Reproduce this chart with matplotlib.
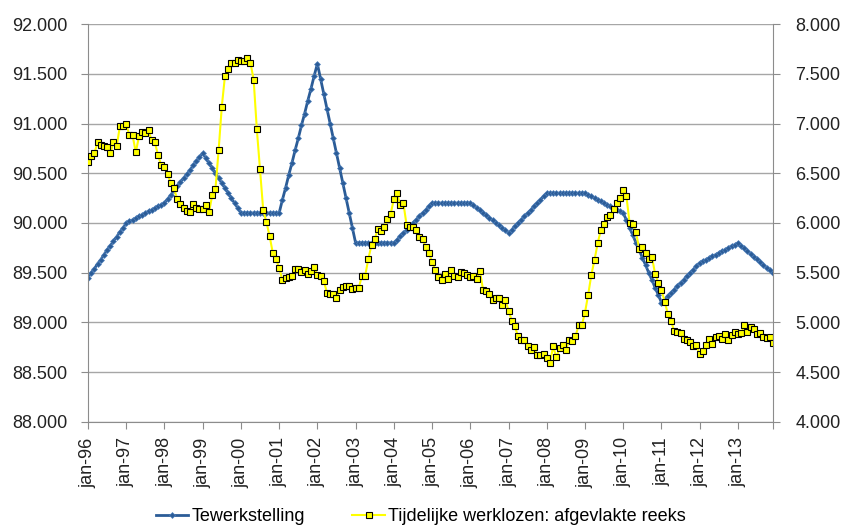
import numpy as np
import matplotlib.pyplot as plt

plt.rcParams['font.family'] = ['Liberation Sans', 'DejaVu Sans']

# maandelijkse reeksen, jan-96 .. dec-13
tewerkstelling = [
    89.45, 89.50, 89.54, 89.59, 89.63, 89.68, 89.73, 89.77, 89.82, 89.86, 89.91, 89.95,  # 1996
    90.00, 90.02, 90.03, 90.05, 90.07, 90.08, 90.10, 90.12, 90.13, 90.15, 90.17, 90.18,  # 1997
    90.20, 90.24, 90.28, 90.33, 90.37, 90.41, 90.45, 90.49, 90.53, 90.58, 90.62, 90.66,  # 1998
    90.70, 90.65, 90.60, 90.55, 90.50, 90.45, 90.40, 90.35, 90.30, 90.25, 90.20, 90.15,  # 1999
    90.10, 90.10, 90.10, 90.10, 90.10, 90.10, 90.10, 90.10, 90.10, 90.10, 90.10, 90.10,  # 2000
    90.10, 90.23, 90.35, 90.48, 90.60, 90.73, 90.85, 90.98, 91.10, 91.23, 91.35, 91.48,  # 2001
    91.60, 91.45, 91.30, 91.15, 91.00, 90.85, 90.70, 90.55, 90.40, 90.25, 90.10, 89.95,  # 2002
    89.80, 89.80, 89.80, 89.80, 89.80, 89.80, 89.80, 89.80, 89.80, 89.80, 89.80, 89.80,  # 2003
    89.80, 89.83, 89.87, 89.90, 89.93, 89.97, 90.00, 90.03, 90.07, 90.10, 90.13, 90.17,  # 2004
    90.20, 90.20, 90.20, 90.20, 90.20, 90.20, 90.20, 90.20, 90.20, 90.20, 90.20, 90.20,  # 2005
    90.20, 90.18, 90.15, 90.13, 90.10, 90.08, 90.05, 90.03, 90.00, 89.98, 89.95, 89.93,  # 2006
    89.90, 89.93, 89.97, 90.00, 90.03, 90.07, 90.10, 90.13, 90.17, 90.20, 90.23, 90.27,  # 2007
    90.30, 90.30, 90.30, 90.30, 90.30, 90.30, 90.30, 90.30, 90.30, 90.30, 90.30, 90.30,  # 2008
    90.30, 90.28, 90.27, 90.25, 90.23, 90.22, 90.20, 90.18, 90.17, 90.15, 90.13, 90.12,  # 2009
    90.10, 90.03, 89.95, 89.88, 89.80, 89.73, 89.65, 89.58, 89.50, 89.43, 89.35, 89.28,  # 2010
    89.20, 89.23, 89.27, 89.30, 89.33, 89.37, 89.40, 89.43, 89.47, 89.50, 89.53, 89.57,  # 2011
    89.60, 89.62, 89.63, 89.65, 89.67, 89.68, 89.70, 89.72, 89.73, 89.75, 89.77, 89.78,  # 2012
    89.80, 89.77, 89.75, 89.72, 89.69, 89.66, 89.64, 89.61, 89.58, 89.55, 89.53, 89.50,  # 2013
]

tijdelijke_werklozen = [
    6.61, 6.67, 6.70, 6.81, 6.78, 6.77, 6.76, 6.70, 6.81, 6.77, 6.97, 6.97,  # 1996
    7.00, 6.88, 6.88, 6.71, 6.87, 6.91, 6.90, 6.93, 6.83, 6.81, 6.68, 6.58,  # 1997
    6.56, 6.49, 6.40, 6.35, 6.24, 6.19, 6.15, 6.12, 6.11, 6.19, 6.15, 6.14,  # 1998
    6.14, 6.18, 6.11, 6.28, 6.34, 6.73, 7.17, 7.48, 7.55, 7.61, 7.61, 7.64,  # 1999
    7.63, 7.63, 7.66, 7.61, 7.44, 6.94, 6.54, 6.13, 6.01, 5.87, 5.70, 5.64,  # 2000
    5.55, 5.43, 5.45, 5.46, 5.47, 5.54, 5.54, 5.51, 5.53, 5.49, 5.52, 5.56,  # 2001
    5.48, 5.47, 5.42, 5.30, 5.29, 5.29, 5.25, 5.33, 5.36, 5.37, 5.37, 5.34,  # 2002
    5.35, 5.35, 5.47, 5.47, 5.64, 5.78, 5.84, 5.94, 5.92, 5.96, 6.04, 6.09,  # 2003
    6.24, 6.30, 6.18, 6.20, 5.98, 5.96, 5.96, 5.93, 5.86, 5.84, 5.76, 5.70,  # 2004
    5.61, 5.53, 5.46, 5.43, 5.49, 5.44, 5.53, 5.47, 5.46, 5.51, 5.50, 5.48,  # 2005
    5.46, 5.47, 5.44, 5.52, 5.33, 5.32, 5.29, 5.23, 5.25, 5.25, 5.18, 5.23,  # 2006
    5.12, 5.02, 4.96, 4.86, 4.82, 4.82, 4.76, 4.72, 4.75, 4.67, 4.67, 4.68,  # 2007
    4.64, 4.59, 4.76, 4.65, 4.74, 4.77, 4.72, 4.82, 4.81, 4.86, 4.97, 4.97,  # 2008
    5.10, 5.28, 5.48, 5.63, 5.80, 5.93, 5.99, 6.06, 6.08, 6.14, 6.20, 6.25,  # 2009
    6.33, 6.27, 6.00, 5.99, 5.91, 5.74, 5.76, 5.70, 5.64, 5.66, 5.49, 5.40,  # 2010
    5.33, 5.21, 5.09, 5.02, 4.91, 4.90, 4.89, 4.83, 4.82, 4.80, 4.76, 4.77,  # 2011
    4.68, 4.71, 4.77, 4.83, 4.78, 4.85, 4.86, 4.83, 4.88, 4.82, 4.87, 4.90,  # 2012
    4.88, 4.89, 4.97, 4.90, 4.95, 4.93, 4.88, 4.89, 4.85, 4.84, 4.85, 4.79,  # 2013
]

jaar_labels = ['jan-96', 'jan-97', 'jan-98', 'jan-99', 'jan-00', 'jan-01',
               'jan-02', 'jan-03', 'jan-04', 'jan-05', 'jan-06', 'jan-07',
               'jan-08', 'jan-09', 'jan-10', 'jan-11', 'jan-12', 'jan-13']

links_ticks = [88.0, 88.5, 89.0, 89.5, 90.0, 90.5, 91.0, 91.5, 92.0]
rechts_ticks = [4.0, 4.5, 5.0, 5.5, 6.0, 6.5, 7.0, 7.5, 8.0]

n = len(tewerkstelling)
x = np.arange(n)
grijs = '#8c8c8c'
tekst = '#222222'
fs = 13

fig = plt.figure(figsize=(8.42, 5.30), dpi=100)
ax = fig.add_axes([0.1045, 0.2038, 0.8135, 0.7509])
ax2 = ax.twinx()

l1, = ax.plot(x, tewerkstelling, color='#2b5c97', lw=2, marker='D', ms=3,
              mfc='#2b5c97', mec='#5080bb', mew=0.5, label='Tewerkstelling')
l2, = ax2.plot(x, tijdelijke_werklozen, color='#ffff00', lw=1.5, marker='s', ms=4.8,
               mfc='#ffff00', mec='black', mew=0.8,
               label='Tijdelijke werklozen: afgevlakte reeks')

ax.set_xlim(0, n - 1)
ax.set_ylim(88, 92)
ax2.set_ylim(4, 8)

ax.set_yticks(links_ticks)
ax.set_yticklabels(['{:.3f}'.format(v) for v in links_ticks])
ax2.set_yticks(rechts_ticks)
ax2.set_yticklabels(['{:.3f}'.format(v) for v in rechts_ticks])

xt = list(range(0, n, 12)) + [n - 1]
ax.set_xticks(xt)
ax.set_xticklabels(jaar_labels + [''], rotation=90)

ax.yaxis.grid(True, color='#a6a6a6', lw=1)
ax.set_axisbelow(True)

for s in ['top', 'right']:
    ax.spines[s].set_visible(False)
for s in ['top', 'left', 'bottom']:
    ax2.spines[s].set_visible(False)
for s in ['left', 'bottom']:
    ax.spines[s].set_color(grijs)
ax2.spines['right'].set_color(grijs)

ax.tick_params(axis='both', colors=grijs, length=5, labelsize=fs, labelcolor=tekst)
ax.tick_params(axis='y', pad=10)
ax.tick_params(axis='x', pad=6)
ax2.tick_params(axis='y', colors=grijs, length=5, labelsize=fs, labelcolor=tekst, pad=11)

fig.legend(handles=[l1, l2], loc='center', bbox_to_anchor=(0.5, 0.025), ncol=2,
           frameon=False, fontsize=fs, handlelength=1.8, handletextpad=0.2,
           columnspacing=2.6)

plt.savefig('out.png', dpi=100)
